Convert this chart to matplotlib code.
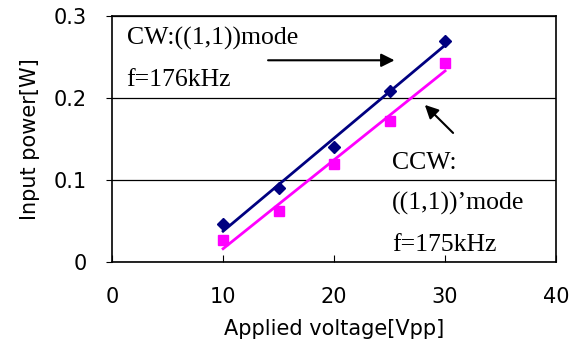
import numpy as np
import matplotlib.pyplot as plt

# data
voltage = [10, 15, 20, 25, 30]
cw_power = [0.046, 0.090, 0.140, 0.209, 0.270]
ccw_power = [0.027, 0.062, 0.119, 0.172, 0.243]

label_font = "DejaVu Sans"
note_font = "Liberation Serif"

fig = plt.figure(figsize=(5.78, 3.45), dpi=100)
ax = fig.add_axes([0.194, 0.2406, 0.768, 0.713])

# linear trend lines
xs = np.array([min(voltage), max(voltage)])
p_cw = np.polyfit(voltage, cw_power, 1)
p_ccw = np.polyfit(voltage, ccw_power, 1)
ax.plot(xs, np.polyval(p_cw, xs), color="#000080", lw=2)
ax.plot(xs, np.polyval(p_ccw, xs), color="#FF00FF", lw=2)

ax.plot(voltage, cw_power, "D", color="#000080", ms=6.5, ls="none")
ax.plot(voltage, ccw_power, "s", color="#FF00FF", ms=6.5, ls="none")

ax.set_xlim(0, 40)
ax.set_ylim(0, 0.3)
ax.set_xticks([0, 10, 20, 30, 40])
ax.set_yticks([0, 0.1, 0.2, 0.3])
ax.set_yticklabels(["0", "0.1", "0.2", "0.3"])
ax.yaxis.grid(True, color="black", lw=0.9)
ax.set_axisbelow(True)
ax.tick_params(axis="x", direction="in", length=5, pad=18)
ax.tick_params(axis="y", direction="out", length=4, pad=14)
for lab in ax.get_xticklabels() + ax.get_yticklabels():
    lab.set_family(label_font)
    lab.set_fontsize(15)
for s in ax.spines.values():
    s.set_linewidth(1.2)

ax.set_xlabel("Applied voltage[Vpp]", family=label_font, fontsize=15, labelpad=9)
ax.set_ylabel("Input power[W]", family=label_font, fontsize=15, labelpad=10)

# annotations
ax.text(1.3, 0.273, "CW:((1,1))mode", family=note_font, fontsize=18.5, va="center")
ax.text(1.3, 0.222, "f=176kHz", family=note_font, fontsize=18.5, va="center")
ax.annotate("", xy=(25.7, 0.246), xytext=(13.8, 0.246),
            arrowprops=dict(arrowstyle="-|>", color="black", lw=1.5, mutation_scale=20))

ax.text(25.2, 0.121, "CCW:", family=note_font, fontsize=18.5, va="center")
ax.text(25.2, 0.072, "((1,1))\u2019mode", family=note_font, fontsize=18.5, va="center")
ax.text(25.2, 0.021, "f=175kHz", family=note_font, fontsize=18.5, va="center")
ax.annotate("", xy=(28.0, 0.194), xytext=(30.9, 0.155),
            arrowprops=dict(arrowstyle="-|>", color="black", lw=1.5, mutation_scale=20))

fig.savefig("out.png", dpi=100)
